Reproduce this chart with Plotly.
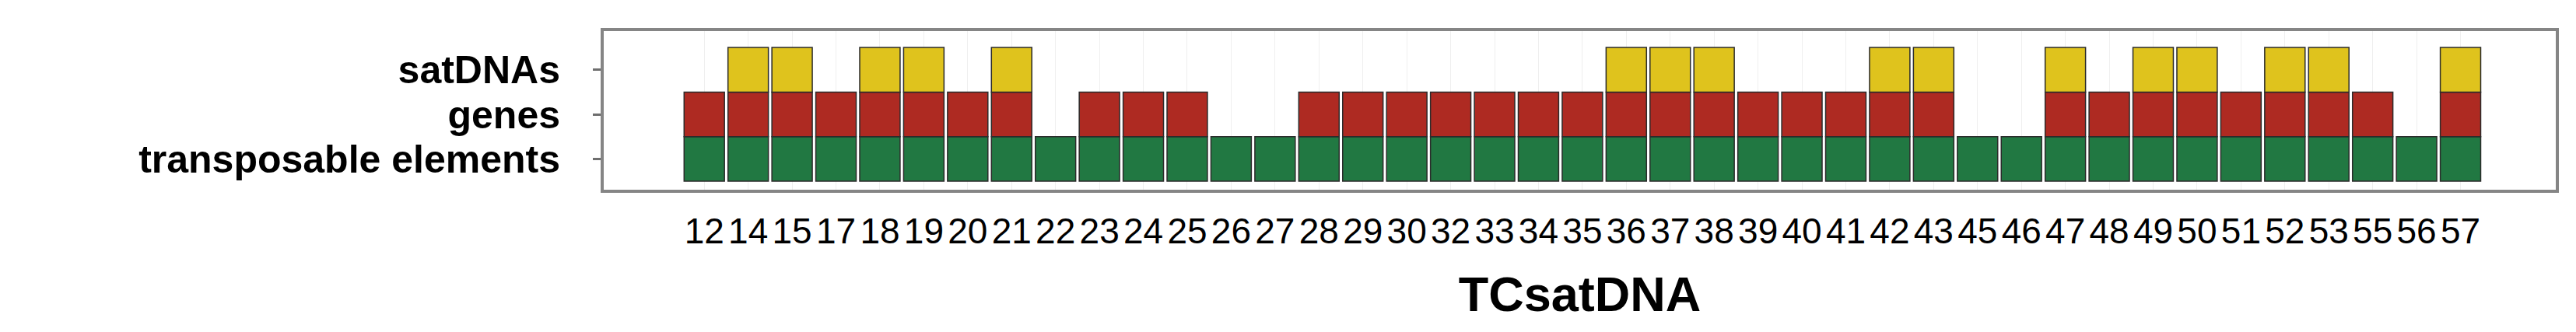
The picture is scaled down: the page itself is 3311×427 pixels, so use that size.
import plotly.graph_objects as go

# TCsatDNA families (x categories)
tcsatdna = ["12", "14", "15", "17", "18", "19", "20", "21", "22", "23", "24", "25", "26", "27",
            "28", "29", "30", "32", "33", "34", "35", "36", "37", "38", "39", "40", "41", "42",
            "43", "45", "46", "47", "48", "49", "50", "51", "52", "53", "55", "56", "57"]

# presence (1) / absence (0) of each neighbouring element type
transposable_elements = [1] * 41
genes = [1, 1, 1, 1, 1, 1, 1, 1, 0, 1, 1, 1, 0, 0,
         1, 1, 1, 1, 1, 1, 1, 1, 1, 1, 1, 1, 1, 1,
         1, 0, 0, 1, 1, 1, 1, 1, 1, 1, 1, 0, 1]
satdnas = [0, 1, 1, 0, 1, 1, 0, 1, 0, 0, 0, 0, 0, 0,
           0, 0, 0, 0, 0, 0, 0, 1, 1, 1, 0, 0, 0, 1,
           1, 0, 0, 1, 0, 1, 1, 0, 1, 1, 0, 0, 1]

row_labels = ["transposable elements", "genes", "satDNAs"]
row_colors = ["#217842", "#AE2A22", "#DFC31D"]
rows = [transposable_elements, genes, satdnas]

fig = go.Figure()
for i, (name, vals, col) in enumerate(zip(row_labels, rows, row_colors)):
    fig.add_trace(go.Bar(
        x=tcsatdna,
        y=[1 if v else None for v in vals],
        base=i,
        name=name,
        marker=dict(color=col, line=dict(color="#2b2b2b", width=1.5)),
        showlegend=False,
    ))

fig.update_layout(
    width=3311, height=427,
    margin=dict(l=768, r=34, t=32, b=191),
    paper_bgcolor="white", plot_bgcolor="white",
    barmode="overlay", bargap=0.08,
    font=dict(family="Liberation Sans, Arial, sans-serif", color="black"),
)

fig.update_xaxes(
    type="category",
    range=[-2.29, 42.17],
    tickmode="array", tickvals=tcsatdna, ticktext=tcsatdna,
    tickangle=0,
    tickfont=dict(family="Liberation Sans, Arial, sans-serif", size=46),
    ticklabelstandoff=10,
    showgrid=True, gridcolor="#efefef", gridwidth=1,
    showline=True, linecolor="#858585", linewidth=4, mirror=True,
    ticks="", zeroline=False,
    title=dict(text="TCsatDNA", font=dict(size=63, weight="bold"), standoff=35),
)

fig.update_yaxes(
    range=[-0.19, 3.367],
    tickmode="array", tickvals=[0.5, 1.5, 2.5], ticktext=row_labels,
    tickfont=dict(size=50, weight="bold"),
    ticks="outside", ticklen=10, tickwidth=3, tickcolor="#6e6e6e",
    ticklabelstandoff=32,
    showgrid=False, zeroline=False,
    showline=True, linecolor="#858585", linewidth=4, mirror=True,
)

fig.write_html("out.html")
